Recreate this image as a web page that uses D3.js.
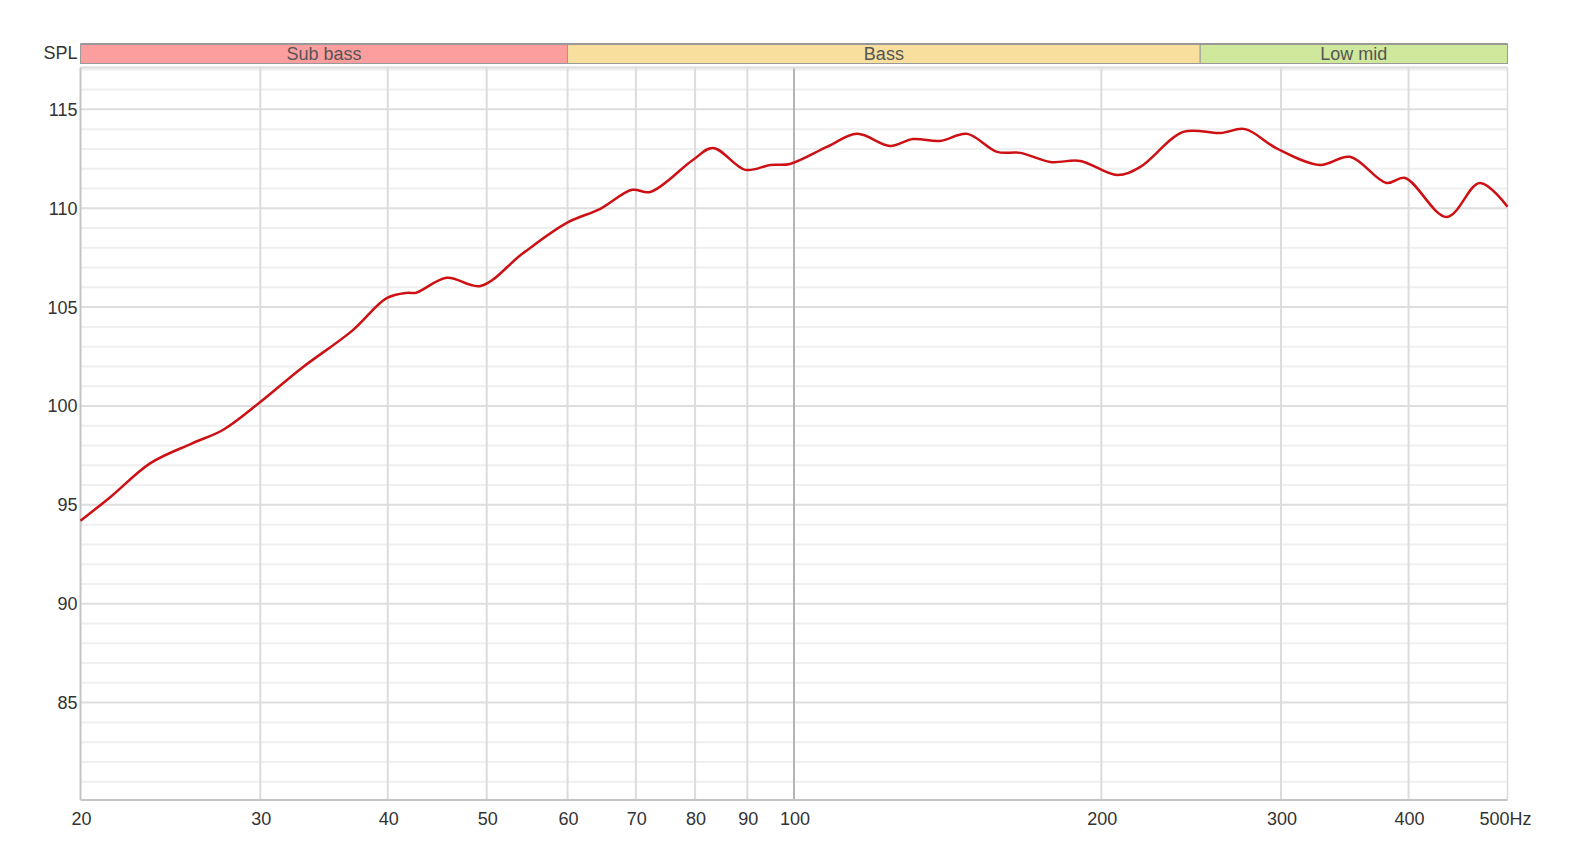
<!DOCTYPE html>
<html>
<head>
<meta charset="utf-8">
<script src="https://cdn.jsdelivr.net/npm/d3@7"></script>
<style>
  body { margin: 0; background: #fff; }
  svg { display: block; font-family: "Liberation Sans", Arial, sans-serif; }
</style>
</head>
<body>
<svg id="chart" width="1574" height="851"></svg>
<script>
// Frequency response (Hz, dB SPL)
const freqs = [20, 21.4, 23.4, 25.7, 27.6, 30, 32.9, 36.9, 39.9, 41.8, 42.6, 45.7, 49.3, 54.3, 59.9, 64.6,
  69.4, 72.3, 79.6, 83.3, 89.6, 94.8, 99.1, 107.7, 115.3, 124.2, 130.8, 139, 147.8, 158.1, 166.6,
  178.3, 190.7, 207.3, 218.4, 240.6, 261.5, 276.6, 297, 327.6, 350.4, 380.6, 396.8, 436, 469.8, 500];
const spl = [94.2, 95.4, 97.1, 98.1, 98.8, 100.2, 101.9, 103.8, 105.45, 105.72, 105.72, 106.48, 106.07, 107.74, 109.26, 109.97,
  110.93, 110.82, 112.44, 113.05, 111.94, 112.19, 112.24, 113.1, 113.76, 113.15, 113.5, 113.4, 113.76, 112.85, 112.8,
  112.34, 112.39, 111.68, 112.09, 113.86, 113.8, 114.0, 113.03, 112.19, 112.6, 111.28, 111.53, 109.56, 111.28, 110.07];

const xTicks = [20, 30, 40, 50, 60, 70, 80, 90, 100, 200, 300, 400, 500];
const yTicks = [85, 90, 95, 100, 105, 110, 115];
const yMinor = d3.range(80, 118, 1);

const bandNames = ['Sub bass', 'Bass', 'Low mid'];
const bandEdges = [20, 60, 250, 500];
const bandColors = ['#fd9e9e', '#f8df9e', '#cfe89c'];

const plotLeft = 80.5, plotRight = 1507.5, plotTop = 67.5, plotBottom = 800;

const svg = d3.select('#chart');
const x = d3.scaleLog().domain([20, 500]).range([plotLeft, plotRight]);
const y = d3.scaleLinear().domain([80, 117]).range([801.5, 69.8]);

// Grid
const grid = svg.append('g');
grid.selectAll('.minor')
  .data(yMinor.filter(v => v % 5 !== 0))
  .enter().append('line')
  .attr('x1', plotLeft).attr('x2', plotRight)
  .attr('y1', d => y(d)).attr('y2', d => y(d))
  .attr('stroke', '#efefef').attr('stroke-width', 2);
grid.selectAll('.major')
  .data(yTicks)
  .enter().append('line')
  .attr('x1', plotLeft).attr('x2', plotRight)
  .attr('y1', d => y(d)).attr('y2', d => y(d))
  .attr('stroke', '#dedede').attr('stroke-width', 2);
grid.selectAll('.vline')
  .data(xTicks.slice(1, -1))
  .enter().append('line')
  .attr('x1', d => x(d)).attr('x2', d => x(d))
  .attr('y1', plotTop).attr('y2', plotBottom)
  .attr('stroke', d => d === 100 ? '#b4b4b4' : '#dcdcdc')
  .attr('stroke-width', 2);

// Frame
svg.append('line').attr('x1', plotLeft).attr('x2', plotRight).attr('y1', plotTop).attr('y2', plotTop)
  .attr('stroke', '#dcdcdc').attr('stroke-width', 2);
svg.append('line').attr('x1', plotRight).attr('x2', plotRight).attr('y1', plotTop).attr('y2', plotBottom)
  .attr('stroke', '#dcdcdc').attr('stroke-width', 1.5);
svg.append('line').attr('x1', plotLeft).attr('x2', plotLeft).attr('y1', plotTop).attr('y2', plotBottom)
  .attr('stroke', '#c4c4c4').attr('stroke-width', 2);
svg.append('line').attr('x1', plotLeft).attr('x2', plotRight).attr('y1', plotBottom).attr('y2', plotBottom)
  .attr('stroke', '#c4c4c4').attr('stroke-width', 2);

// Frequency bands
const bands = svg.append('g');
bandNames.forEach((name, i) => {
  const x0 = x(bandEdges[i]), x1 = x(bandEdges[i + 1]);
  bands.append('rect')
    .attr('x', x0).attr('y', 44)
    .attr('width', x1 - x0).attr('height', 19.5)
    .attr('fill', bandColors[i])
    .attr('stroke', '#9a9a9a').attr('stroke-width', 1);
  bands.append('text')
    .attr('x', (x0 + x1) / 2).attr('y', 60)
    .attr('text-anchor', 'middle')
    .style('font-size', '18px').style('fill', '#555')
    .text(name);
});
svg.append('line').attr('x1', plotLeft).attr('x2', plotRight).attr('y1', 44).attr('y2', 44)
  .attr('stroke', '#999').attr('stroke-width', 2);

svg.append('text')
  .attr('x', 77.5).attr('y', 59)
  .attr('text-anchor', 'end')
  .style('font-size', '18px').style('fill', '#333')
  .text('SPL');

// Axis labels
svg.append('g').selectAll('text')
  .data(yTicks)
  .enter().append('text')
  .attr('x', 77.5).attr('y', d => y(d) + 6.5)
  .attr('text-anchor', 'end')
  .style('font-size', '18px').style('fill', '#333')
  .text(d => d);

svg.append('g').selectAll('text')
  .data(xTicks)
  .enter().append('text')
  .attr('x', d => d === 500 ? x(d) - 2 : x(d) + 1).attr('y', 824.5)
  .attr('text-anchor', 'middle')
  .style('font-size', '18px').style('fill', '#333')
  .text(d => d === 500 ? '500Hz' : d);

// Response curve
const line = d3.line()
  .x((d, i) => x(freqs[i]))
  .y(d => y(d))
  .curve(d3.curveCatmullRom.alpha(0.5));

svg.append('path')
  .datum(spl)
  .attr('d', line)
  .attr('fill', 'none')
  .attr('stroke', '#cc1014')
  .attr('stroke-width', 2.5);
</script>
</body>
</html>
